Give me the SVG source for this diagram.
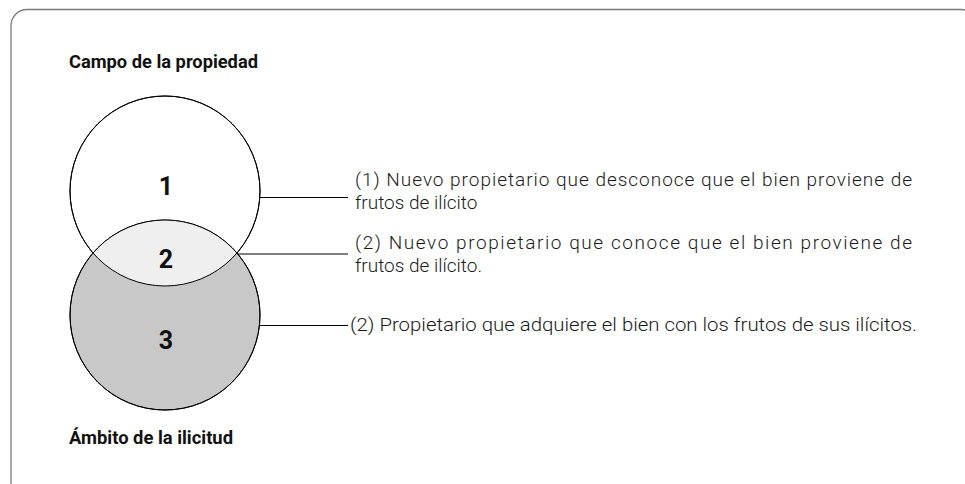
<svg xmlns="http://www.w3.org/2000/svg" width="965" height="484" viewBox="0 0 965 484">
<style>
.frame{fill:none;stroke:#7a7a7a;stroke-width:1.3}
.circ{stroke:#000;stroke-width:1}
.lead{stroke:#000;stroke-width:1;fill:none}
.title{font-family:Roboto,"Liberation Sans",sans-serif;font-weight:700;font-size:18.5px;fill:#111}
.num{font-family:Roboto,"Liberation Sans",sans-serif;font-weight:700;font-size:25px;fill:#111;text-anchor:middle}
.desc{font-family:Roboto,"Liberation Sans",sans-serif;font-weight:300;font-size:19px;fill:#1a1a1a}
</style>
<rect class="frame" x="11" y="9.5" width="966" height="500" rx="16"/>
<text class="title" x="69" y="68" textLength="189" lengthAdjust="spacingAndGlyphs">Campo de la propiedad</text>
<g id="node1">
<circle class="circ" cx="165" cy="191" r="95" fill="#fff"/>
</g>
<g id="node3">
<circle class="circ" cx="165" cy="315" r="95" fill="#c8c8c8"/>
</g>
<g id="node2">
<path d="M93,253 A95,95 0 0 1 237,253 A95,95 0 0 1 93,253 Z" fill="#efefef"/>
<circle cx="165" cy="191" r="95" fill="none" stroke="#000" stroke-width="1"/>
<circle cx="165" cy="315" r="95" fill="none" stroke="#000" stroke-width="1"/>
</g>
<text class="num" x="166" y="195">1</text>
<text class="num" x="166" y="268">2</text>
<text class="num" x="166" y="349">3</text>
<text class="title" x="69" y="444" textLength="164" lengthAdjust="spacingAndGlyphs">Ámbito de la ilicitud</text>
<g id="connectors">
<line class="lead" x1="260" y1="197.5" x2="348" y2="197.5"/>
<line class="lead" x1="237" y1="254" x2="348" y2="254"/>
<line class="lead" x1="260" y1="325.5" x2="348" y2="325.5"/>
</g>
<g id="label1">
<text class="desc" x="355" y="186" textLength="557" lengthAdjust="spacing">(1) Nuevo propietario que desconoce que el bien proviene de</text>
<text class="desc" x="355" y="209">frutos de ilícito</text>
</g>
<g id="label2">
<text class="desc" x="355" y="249" textLength="557" lengthAdjust="spacing">(2) Nuevo propietario que conoce que el bien proviene de</text>
<text class="desc" x="355" y="272">frutos de ilícito.</text>
</g>
<g id="label3">
<text class="desc" x="350" y="331" textLength="567" lengthAdjust="spacingAndGlyphs">(2) Propietario que adquiere el bien con los frutos de sus ilícitos.</text>
</g>
</svg>
